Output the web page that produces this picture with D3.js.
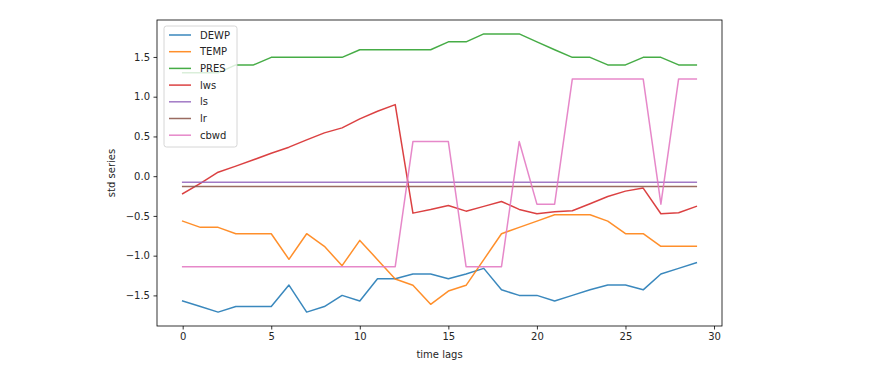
<!DOCTYPE html>
<html>
<head>
<meta charset="utf-8">
<script src="https://cdn.jsdelivr.net/npm/d3@7"></script>
<style>
  body { margin: 0; background: #fff; }
  text { font-family: "DejaVu Sans", sans-serif; }
</style>
</head>
<body>
<div id="wrapper"></div>
<script>
// time lags 0..29
const lags = d3.range(0, 30);

// standardised series
const DEWP = [-1.57, -1.64, -1.71, -1.64, -1.64, -1.64, -1.37, -1.71, -1.64, -1.50,
              -1.57, -1.29, -1.29, -1.23, -1.23, -1.29, -1.23, -1.16, -1.43, -1.50,
              -1.50, -1.57, -1.50, -1.43, -1.37, -1.37, -1.43, -1.23, -1.16, -1.09];
const TEMP = [-0.565, -0.644, -0.644, -0.724, -0.724, -0.724, -1.046, -0.724, -0.883, -1.126,
              -0.808, -1.05, -1.294, -1.373, -1.612, -1.445, -1.373, -1.05, -0.724, -0.644,
              -0.565, -0.485, -0.485, -0.485, -0.565, -0.724, -0.724, -0.883, -0.883, -0.883];
const PRES = [1.30, 1.30, 1.30, 1.40, 1.40, 1.495, 1.495, 1.495, 1.495, 1.495,
              1.59, 1.59, 1.59, 1.59, 1.59, 1.69, 1.69, 1.79, 1.79, 1.79,
              1.69, 1.59, 1.495, 1.495, 1.40, 1.40, 1.495, 1.495, 1.40, 1.40];
const lws  = [-0.22, -0.09, 0.05, 0.126, 0.206, 0.289, 0.365, 0.457, 0.545, 0.608,
              0.721, 0.817, 0.90, -0.465, -0.42, -0.368, -0.44, -0.38, -0.318, -0.418,
              -0.473, -0.448, -0.435, -0.347, -0.255, -0.188, -0.15, -0.473, -0.46, -0.38];
const ls   = lags.map(() => -0.077);
const lr   = lags.map(() => -0.13);
const cbwd = [-1.138, -1.138, -1.138, -1.138, -1.138, -1.138, -1.138, -1.138, -1.138, -1.138,
              -1.138, -1.138, -1.138, 0.436, 0.436, 0.436, -1.138, -1.138, -1.138, 0.436,
              -0.352, -0.352, 1.224, 1.224, 1.224, 1.224, 1.224, -0.352, 1.224, 1.224];

const seriesNames = ["DEWP", "TEMP", "PRES", "lws", "ls", "lr", "cbwd"];
const seriesValues = [DEWP, TEMP, PRES, lws, ls, lr, cbwd];
const colors = ["#1f77b4", "#ff7f0e", "#2ca02c", "#d62728", "#9467bd", "#8c564b", "#e377c2"];

const xTicks = [0, 5, 10, 15, 20, 25, 30];
const yTicks = [-1.5, -1.0, -0.5, 0.0, 0.5, 1.0, 1.5];

const dimensions = {
    width: 886,
    height: 373,
    margin: { top: 20, right: 164, bottom: 47, left: 157 }
};
dimensions.boundedWidth = dimensions.width - dimensions.margin.left - dimensions.margin.right;
dimensions.boundedHeight = dimensions.height - dimensions.margin.top - dimensions.margin.bottom;

const svg = d3.select("#wrapper")
    .append("svg")
    .attr("width", dimensions.width)
    .attr("height", dimensions.height);

const bounds = svg.append("g")
    .attr("transform", `translate(${dimensions.margin.left},${dimensions.margin.top})`);

// matplotlib style 5% margins
const allVals = seriesValues.flat();
const yMin = d3.min(allVals), yMax = d3.max(allVals);
const yPad = (yMax - yMin) * 0.05;
const xPad = 29 * 0.05;

const xScale = d3.scaleLinear()
    .domain([0 - xPad, 29 + xPad])
    .range([0, dimensions.boundedWidth]);

const yScale = d3.scaleLinear()
    .domain([yMin - yPad, yMax + yPad])
    .range([dimensions.boundedHeight, 0]);

// lines
const lineGen = d3.line()
    .x((d, i) => xScale(lags[i]))
    .y(d => yScale(d));

bounds.append("g")
    .selectAll("path")
    .data(seriesValues)
    .join("path")
    .attr("d", d => lineGen(d))
    .attr("fill", "none")
    .attr("stroke", (d, i) => colors[i])
    .attr("stroke-opacity", 0.88)
    .attr("stroke-width", 1.5)
    .attr("stroke-linejoin", "round")
    .attr("stroke-linecap", "square");

// axes
const fmtY = d => d3.format(".1f")(d).replace("-", "\u2212");

const xAxis = bounds.append("g")
    .attr("transform", `translate(0,${dimensions.boundedHeight})`)
    .call(d3.axisBottom(xScale).tickValues(xTicks).tickSize(3.5).tickPadding(3.5).tickFormat(d3.format("d")));

const yAxis = bounds.append("g")
    .call(d3.axisLeft(yScale).tickValues(yTicks).tickSize(3.5).tickPadding(3.5).tickFormat(fmtY));

[xAxis, yAxis].forEach(a => {
    a.select(".domain").remove();
    a.selectAll(".tick line").attr("stroke", "#000").attr("stroke-width", 0.8);
    a.selectAll(".tick text")
        .attr("fill", "#262626")
        .style("font-family", "DejaVu Sans, sans-serif")
        .style("font-size", "10px");
});

// spines
bounds.append("rect")
    .attr("x", 0).attr("y", 0)
    .attr("width", dimensions.boundedWidth)
    .attr("height", dimensions.boundedHeight)
    .attr("fill", "none")
    .attr("stroke", "#000")
    .attr("stroke-width", 0.8);

// axis labels
bounds.append("text")
    .attr("x", dimensions.boundedWidth / 2)
    .attr("y", dimensions.boundedHeight + 32)
    .attr("text-anchor", "middle")
    .style("font-size", "10px")
    .attr("fill", "#262626")
    .text("time lags");

bounds.append("text")
    .attr("transform", `translate(${-42},${dimensions.boundedHeight / 2}) rotate(-90)`)
    .attr("text-anchor", "middle")
    .style("font-size", "10px")
    .attr("fill", "#262626")
    .text("std series");

// legend
const legend = bounds.append("g")
    .attr("transform", "translate(7,6)");

legend.append("rect")
    .attr("width", 73)
    .attr("height", 121)
    .attr("rx", 2.5)
    .attr("fill", "#fff")
    .attr("fill-opacity", 0.8)
    .attr("stroke", "#ccc")
    .attr("stroke-width", 0.8);

const items = legend.selectAll("g.item")
    .data(seriesNames)
    .join("g")
    .attr("class", "item")
    .attr("transform", (d, i) => `translate(0,${9 + i * 16.7})`);

items.append("line")
    .attr("x1", 5).attr("x2", 27)
    .attr("stroke", (d, i) => colors[i])
    .attr("stroke-opacity", 0.88)
    .attr("stroke-width", 1.5);

items.append("text")
    .attr("x", 36)
    .attr("dy", "0.35em")
    .style("font-size", "10px")
    .attr("fill", "#262626")
    .text(d => d);
</script>
</body>
</html>
